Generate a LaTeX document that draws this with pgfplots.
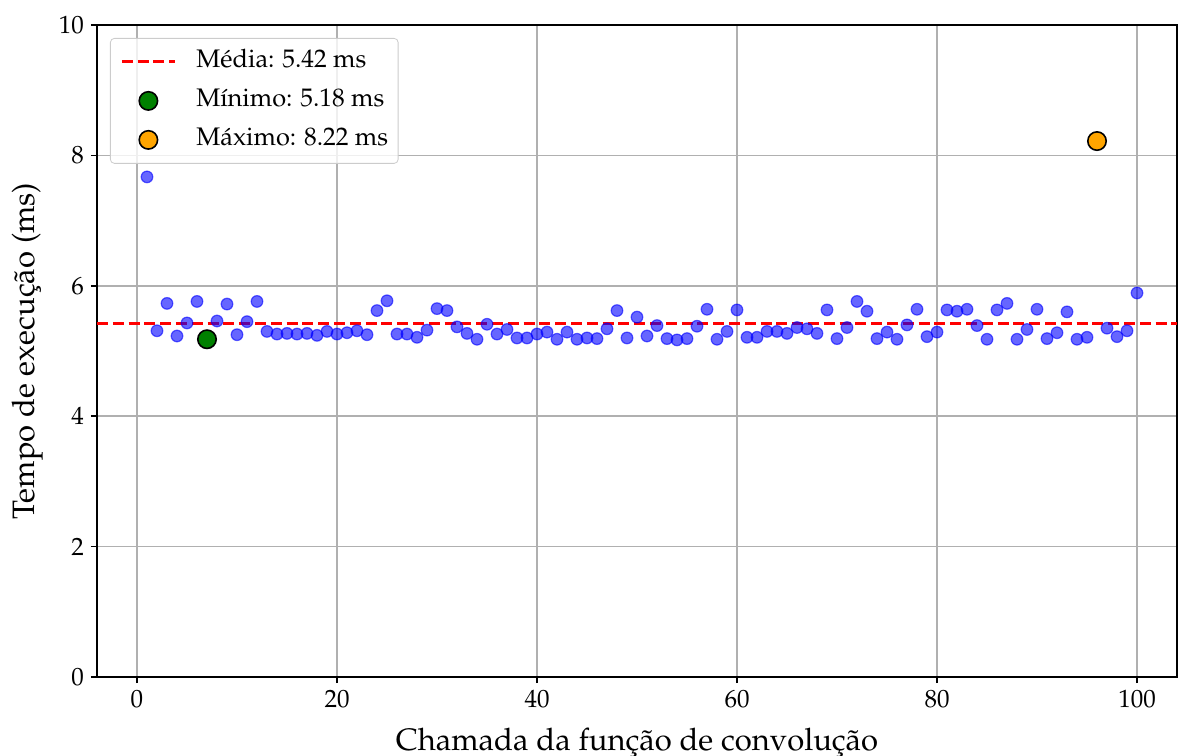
\documentclass[border=0pt]{standalone}
\usepackage[T1]{fontenc}
\usepackage{mathpazo}
\usepackage{pgfplots}
\pgfplotsset{compat=1.18}
\usetikzlibrary{calc}
\definecolor{mplgreen}{HTML}{008000}
\definecolor{mplorange}{HTML}{FFA500}
\definecolor{gridgray}{HTML}{B0B0B0}
\pgfplotsset{
  lineleg/.style={legend image code/.code={\draw[##1] (0pt,0pt) -- (26.5pt,0pt);}},
  markleg/.style={legend image code/.code={\path[draw=none,fill=none] (0pt,-5pt) (26.5pt,5pt); \draw[##1] plot coordinates {(13.25pt,0pt)};}},
}
\pgfplotstableread{
x y
1 7.67
2 5.31
3 5.73
4 5.23
5 5.43
6 5.76
7 5.18
8 5.46
9 5.72
10 5.25
11 5.45
12 5.76
13 5.30
14 5.26
15 5.27
16 5.26
17 5.27
18 5.24
19 5.30
20 5.26
21 5.28
22 5.31
23 5.25
24 5.62
25 5.77
26 5.26
27 5.26
28 5.21
29 5.32
30 5.65
31 5.62
32 5.37
33 5.27
34 5.18
35 5.41
36 5.26
37 5.33
38 5.20
39 5.20
40 5.26
41 5.29
42 5.18
43 5.29
44 5.18
45 5.20
46 5.19
47 5.34
48 5.62
49 5.20
50 5.52
51 5.23
52 5.39
53 5.19
54 5.17
55 5.19
56 5.38
57 5.64
58 5.18
59 5.30
60 5.63
61 5.21
62 5.21
63 5.30
64 5.30
65 5.27
66 5.36
67 5.34
68 5.27
69 5.63
70 5.19
71 5.36
72 5.76
73 5.61
74 5.19
75 5.29
76 5.18
77 5.40
78 5.64
79 5.22
80 5.29
81 5.63
82 5.61
83 5.64
84 5.39
85 5.18
86 5.63
87 5.73
88 5.18
89 5.33
90 5.64
91 5.19
92 5.28
93 5.60
94 5.18
95 5.21
96 8.22
97 5.35
98 5.22
99 5.31
100 5.89
}\calls
\begin{document}
\begin{tikzpicture}
\begin{axis}[
  scale only axis,
  width=540pt, height=326pt,
  xmin=-4, xmax=104, ymin=0, ymax=10,
  xtick={0,20,40,60,80,100},
  ytick={0,2,4,6,8,10},
  tick align=outside,
  xtick pos=bottom, ytick pos=left,
  major tick length=3pt,
  tick style={black, line width=0.8pt},
  axis line style={line width=1pt},
  grid=major,
  major grid style={gridgray, line width=0.8pt},
  tick label style={font=\fontsize{12.5}{15}\selectfont},
  label style={font=\fontsize{15.5}{18}\selectfont},
  xlabel={Chamada da função de convolução},
  ylabel={Tempo de execução (ms)},
  x label style={at={(axis description cs:0.5,-0.112)}, anchor=base},
  y label style={at={(axis description cs:-0.0583,0.5)}, anchor=base},
  legend cell align=left,
  legend style={
    at={(axis description cs:0,1)}, anchor=north west,
    xshift=6.5pt, yshift=-6.5pt,
    draw=black!20, rounded corners=2pt,
    fill=white, fill opacity=0.8, text opacity=1, draw opacity=1,
    font=\fontsize{12.7}{14}\selectfont,
    inner xsep=5pt, inner ysep=5.75pt,
    row sep=7.5pt,
    nodes={inner sep=0pt, text height=9pt, text depth=3pt},
    /tikz/every odd column/.append style={column sep=10pt},
  },
]
\addplot[only marks, mark=*, mark size=2.9pt,
  mark options={fill=blue, draw=blue, fill opacity=0.6, draw opacity=0.6, line width=0.6pt},
  forget plot] table[x=x, y=y] {\calls};
\addplot[red, line width=1.5pt, dash pattern=on 5.5pt off 2.4pt, lineleg]
  coordinates {(-4,5.42) (104,5.42)};
\addlegendentry{Média: 5.42 ms}
\addplot[only marks, mark=*, mark size=4.6pt,
  mark options={fill=mplgreen, draw=black, line width=0.8pt, fill opacity=1, draw opacity=1}, markleg]
  coordinates {(7,5.18)};
\addlegendentry{Mínimo: 5.18 ms}
\addplot[only marks, mark=*, mark size=4.6pt,
  mark options={fill=mplorange, draw=black, line width=0.8pt, fill opacity=1, draw opacity=1}, markleg]
  coordinates {(96,8.22)};
\addlegendentry{Máximo: 8.22 ms}
\end{axis}
\pgfresetboundingbox
\path[use as bounding box] ($(current axis.south west)+(-48.5pt,-39pt)$) rectangle ($(current axis.north east)+(0.5pt,12.5pt)$);
\end{tikzpicture}
\end{document}
